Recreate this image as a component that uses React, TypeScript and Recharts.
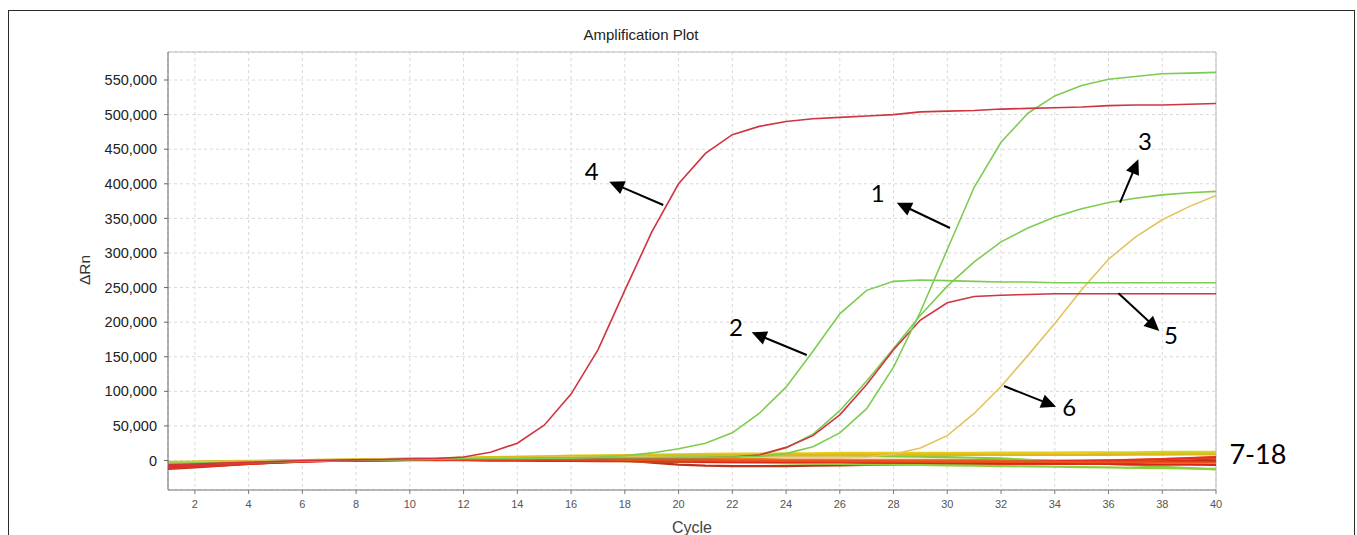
import React from 'react';
import { LineChart, Line, XAxis, YAxis, CartesianGrid, ReferenceLine, ReferenceDot } from 'recharts';

// cycle numbers on the x axis
const cycles = [1, 2, 3, 4, 5, 6, 7, 8, 9, 10, 11, 12, 13, 14, 15, 16, 17, 18, 19, 20,
  21, 22, 23, 24, 25, 26, 27, 28, 29, 30, 31, 32, 33, 34, 35, 36, 37, 38, 39, 40];

const xTicks = [2, 4, 6, 8, 10, 12, 14, 16, 18, 20, 22, 24, 26, 28, 30, 32, 34, 36, 38, 40];
const yTicks = [0, 50000, 100000, 150000, 200000, 250000, 300000, 350000, 400000, 450000, 500000, 550000];

// ΔRn values, in thousands
const well1 = [-4, -3.5, -3, -2.5, -1.5, -0.5, 0, 0.5, 1, 1.5, 2, 2.5, 3, 3, 3.5, 3.5, 4, 4, 4, 4.5,
  4.5, 5, 6, 10, 20, 40, 75, 135, 215, 305, 395, 460, 502, 527, 542, 551, 555, 559, 560, 561];
const well2 = [-6, -5, -4, -3, -2, -1, 0, 0.5, 1, 1.5, 2, 2.5, 3, 3, 3.5, 4, 5, 7, 11, 17,
  25, 40, 68, 106, 158, 212, 246, 259, 261, 260, 259, 258, 258, 257, 257, 257, 257, 257, 257, 257];
const well3 = [-5, -4, -3.5, -2.5, -1.5, -0.5, 0, 0.5, 1, 1.5, 2, 2, 2.5, 2.5, 3, 3, 3.5, 3.5, 4, 4,
  4.5, 5, 8, 18, 38, 72, 115, 162, 210, 252, 287, 316, 336, 352, 364, 373, 379, 384, 387, 389];
const well4 = [-6, -5, -3.5, -2.5, -1.5, 0, 0.5, 1, 1.5, 2.5, 3, 5, 12, 25, 51, 96, 160, 246, 330, 400,
  444, 471, 483, 490, 494, 496, 498, 500, 504, 505, 506, 508, 509, 510, 511, 513, 514, 514, 515, 516];
const well5 = [-8, -6.5, -5, -3.5, -2, -0.5, 0, 0.5, 1, 1.5, 2, 2, 2.5, 2.5, 3, 3, 3, 3.5, 3.5, 4,
  4, 5, 8, 19, 36, 66, 110, 160, 203, 228, 237, 239, 240, 241, 241, 241, 241, 241, 241, 241];
const well6 = [-3, -2, -1.5, -1, 0, 0.5, 1, 1.5, 2, 2.5, 3, 3.5, 4, 4, 4.5, 5, 5, 5, 5, 5,
  5, 5, 5, 5, 5, 5, 5, 9, 18, 36, 68, 107, 152, 198, 247, 291, 323, 348, 367, 383];

// negative wells 7-18
const well7 = [-10, -8, -6, -4, -2, -0.5, 0, 0.5, 1, 1.5, 2, 2, 2, 1.5, 1, 0.5, 0, -0.5, -1, -1.5,
  -2, -2, -2.5, -2.5, -3, -3, -3, -3.5, -3.5, -3, -3, -3, -2.5, -2.5, -2, -2, -1.5, -1, -1, -0.5];
const well8 = [-12, -10, -7.5, -5, -3, -1, 0, 1, 1.5, 2, 3, 3.5, 4, 4, 3.5, 3, 2, 0, -3, -6,
  -7.5, -8, -8, -8, -7.5, -7, -6.5, -6, -5.5, -5, -5, -4.5, -4.5, -4, -4, -3.5, -3, -2, -1, 0];
const well9 = [-8, -7, -5.5, -4, -2.5, -1, 0, 0.5, 1, 1, 1.5, 1.5, 1.5, 1, 1, 0.5, 0.5, 0, -0.5, -1,
  -1, -1.5, -1.5, -2, -2, -2, -2.5, -2.5, -3, -3, -3.5, -4, -4, -4.5, -4.5, -4, -3, -1, 1, 3];
const well10 = [-5, -4, -3, -2, -1, 0, 0.5, 1, 1.5, 2, 2.5, 3, 3, 3, 3, 3, 3, 2.5, 2.5, 2,
  2, 2, 2, 1.5, 1.5, 1.5, 1, 1, 1, 1, 0.5, 0.5, 0.5, 0, 0, 0.5, 1, 2, 3, 5];
const well11 = [-3, -2, -1.5, -1, 0, 0.5, 1, 1.5, 2, 3, 3.5, 4, 5, 5.5, 6, 7, 7.5, 8, 8.5, 9,
  9.5, 10, 10, 10.5, 10.5, 11, 11, 11, 11, 11, 11, 11.5, 11.5, 11.5, 12, 12, 12, 12.5, 12.5, 12.5];
const well12 = [-4, -3, -2.5, -1.5, -0.5, 0, 0.5, 1, 2, 2.5, 3, 3.5, 4, 4.5, 5, 5.5, 6, 6.5, 7, 7.5,
  8, 8, 8.5, 8.5, 9, 9, 9, 9, 9, 9, 9, 9, 9, 9, 9, 9.5, 9.5, 10, 10, 10];
const well13 = [-6, -5, -4, -3, -1.5, -0.5, 0, 1, 1.5, 2, 2.5, 3, 3.5, 4, 4.5, 5, 5.5, 6, 6, 6.5,
  6.5, 7, 7, 7, 7, 7, 6.5, 6, 5.5, 5, 4, 3, 1, -1, -3, -5, -7, -9, -11, -13];
const well14 = [-7, -6, -4.5, -3, -2, -0.5, 0, 0.5, 1, 1, 1, 1, 0.5, 0.5, 0, 0, -0.5, -1, -1.5, -2,
  -2.5, -3, -3.5, -4, -4.5, -5, -5.5, -6, -6.5, -7, -7.5, -8, -8.5, -9, -9.5, -10, -10.5, -11, -11.5, -12];
const well15 = [-9, -7.5, -6, -4.5, -3, -1.5, -0.5, 0, 0, 0.5, 0.5, 0.5, 0, 0, -0.5, -0.5, -1, -1, -1.5, -1.5,
  -2, -2, -2, -2.5, -2.5, -2.5, -3, -3, -3, -3.5, -3.5, -4, -4, -4.5, -4.5, -5, -5.5, -6, -6, -6.5];
const well16 = [-11, -9, -7, -5, -3, -1.5, -0.5, 0, 0.5, 1, 1, 1, 1, 1, 0.5, 0.5, 0, 0, 0, -0.5,
  -0.5, -1, -1, -1, -1.5, -1.5, -1.5, -2, -2, -2, -2, -2, -1.5, -1, -0.5, 0, 1, 2, 3.5, 5];
const well17 = [-7, -6, -4.5, -3, -1.5, -0.5, 0, 0.5, 1, 1.5, 2, 2, 2, 2, 2, 1.5, 1.5, 1, 1, 0.5,
  0.5, 0, 0, -0.5, -0.5, -1, -1, -1, -1.5, -1.5, -1.5, -2, -2, -2, -2.5, -2.5, -2.5, -3, -3, -3];
const well18 = [-2, -1.5, -1, -0.5, 0, 0.5, 1, 1.5, 2, 2.5, 3, 4, 4.5, 5, 5.5, 6, 6.5, 7, 7, 7.5,
  7.5, 8, 8, 8, 8, 8, 8, 8, 8, 8, 8, 8, 8, 8, 8, 8, 8.5, 8.5, 9, 9];

// annotation arrows: tail -> head, in (cycle, ΔRn)
const arrows = [
  { label: '4', from: [19.43, 369300], to: [17.42, 403000], text: [16.77, 418500] },
  { label: '1', from: [30.1, 336100], to: [28.12, 372700], text: [27.41, 387100] },
  { label: '3', from: [36.43, 372700], to: [37.11, 435400], text: [37.36, 463300] },
  { label: '2', from: [24.77, 152500], to: [22.72, 185300], text: [22.14, 194400] },
  { label: '5', from: [36.37, 241700], to: [37.89, 187200], text: [38.32, 182400] },
  { label: '6', from: [32.11, 107700], to: [34.05, 77800], text: [34.54, 77800] },
];
const groupLabel = { label: '7-18', at: [41.56, 10800] };

const RED = '#cf3441';
const GREEN = '#7dcc52';
const GOLD = '#e3c35e';

const negatives = [
  { key: 'w7', values: well7, color: '#e3261d' },
  { key: 'w8', values: well8, color: '#b8321f' },
  { key: 'w9', values: well9, color: '#de2a1c' },
  { key: 'w10', values: well10, color: '#ef7d1c' },
  { key: 'w11', values: well11, color: '#e6cc1c' },
  { key: 'w12', values: well12, color: '#b6d52c' },
  { key: 'w13', values: well13, color: '#86cc3a' },
  { key: 'w14', values: well14, color: '#8fd040' },
  { key: 'w15', values: well15, color: '#d9261c' },
  { key: 'w16', values: well16, color: '#e4301e' },
  { key: 'w17', values: well17, color: '#e8521c' },
  { key: 'w18', values: well18, color: '#e0b81e' },
];
const positives = [
  { key: 'w6', values: well6, color: GOLD },
  { key: 'w2', values: well2, color: GREEN },
  { key: 'w3', values: well3, color: GREEN },
  { key: 'w5', values: well5, color: RED },
  { key: 'w1', values: well1, color: GREEN },
  { key: 'w4', values: well4, color: RED },
];
const allSeries = [...negatives, ...positives];

const data = cycles.map((c, i) => {
  const row: Record<string, number> = { cycle: c };
  allSeries.forEach((s) => { row[s.key] = s.values[i] * 1000; });
  return row;
});

const arrowShape = (p: any) => {
  const { x1, y1, x2, y2 } = p;
  const dx = x2 - x1;
  const dy = y2 - y1;
  const len = Math.hypot(dx, dy) || 1;
  const ux = dx / len;
  const uy = dy / len;
  const hl = 15;
  const hw = 7;
  const bx = x2 - ux * hl;
  const by = y2 - uy * hl;
  const pts = `${x2},${y2} ${bx - uy * hw},${by + ux * hw} ${bx + uy * hw},${by - ux * hw}`;
  return (
    <g>
      <line x1={x1} y1={y1} x2={bx + ux * 2} y2={by + uy * 2} stroke="#000" strokeWidth={2} />
      <polygon points={pts} fill="#000" />
    </g>
  );
};

const textShape = (label: string, size: number) => (p: any) => (
  <text x={p.cx} y={p.cy} textAnchor="middle" dominantBaseline="central"
    fontSize={size} fontFamily="Lato, 'Open Sans', sans-serif" fill="#000">{label}</text>
);

const fmt = (v: number) => v.toLocaleString('en-US');

export default function App() {
  return (
    <div style={{ position: 'fixed', left: 0, top: 0, width: 1357, height: 535, overflow: 'hidden', background: '#fff', fontFamily: "'Liberation Sans', Arial, sans-serif" }}>
      <div style={{ position: 'absolute', left: 8, top: 10, width: 1345, height: 600, border: '1.5px solid #2b2b2b' }} />
      <div style={{ position: 'absolute', left: 0, width: 1282, top: 26, textAlign: 'center', fontSize: 15, color: '#222' }}>
        Amplification Plot
      </div>
      <div style={{ position: 'absolute', left: 85, top: 270, transform: 'translate(-50%, -50%) rotate(-90deg)', fontSize: 15.5, color: '#333' }}>
        ΔRn
      </div>
      <div style={{ position: 'absolute', left: 692, top: 528, transform: 'translate(-50%, -50%)', fontSize: 16, color: '#444' }}>
        Cycle
      </div>
      <div style={{ position: 'absolute', left: 0, top: 0 }}>
        <LineChart width={1357} height={535} data={data} margin={{ top: 52, right: 141, bottom: 0, left: 0 }}>
          <CartesianGrid stroke="#d9d9d9" strokeDasharray="3 3" />
          <XAxis dataKey="cycle" type="number" domain={[1, 40]} ticks={xTicks} height={45}
            tickSize={4} tickMargin={6} stroke="#777" tick={{ fontSize: 11, fill: '#555' }} />
          <YAxis type="number" domain={[-42600, 590500]} ticks={yTicks} width={168} allowDataOverflow
            tickSize={4} tickMargin={7} stroke="#666" tickFormatter={fmt} tick={{ fontSize: 14.5, fill: '#222' }} />
          <ReferenceLine y={590500} stroke="#bbb" ifOverflow="visible" />
          <ReferenceLine x={40} stroke="#bbb" />
          {allSeries.map((s) => (
            <Line key={s.key} dataKey={s.key} type="linear" stroke={s.color}
              strokeWidth={s.key.length > 2 || Number(s.key.slice(1)) > 6 ? 2.2 : 1.6}
              dot={false} activeDot={false} isAnimationActive={false} />
          ))}
          {arrows.map((a) => (
            <ReferenceLine key={'a' + a.label}
              segment={[{ x: a.from[0], y: a.from[1] }, { x: a.to[0], y: a.to[1] }]}
              shape={arrowShape} ifOverflow="visible" />
          ))}
          {arrows.map((a) => (
            <ReferenceDot key={'t' + a.label} x={a.text[0]} y={a.text[1]} r={0}
              shape={textShape(a.label, 24)} ifOverflow="visible" />
          ))}
          <ReferenceDot x={groupLabel.at[0]} y={groupLabel.at[1]} r={0}
            shape={textShape(groupLabel.label, 27)} ifOverflow="visible" />
        </LineChart>
      </div>
    </div>
  );
}
